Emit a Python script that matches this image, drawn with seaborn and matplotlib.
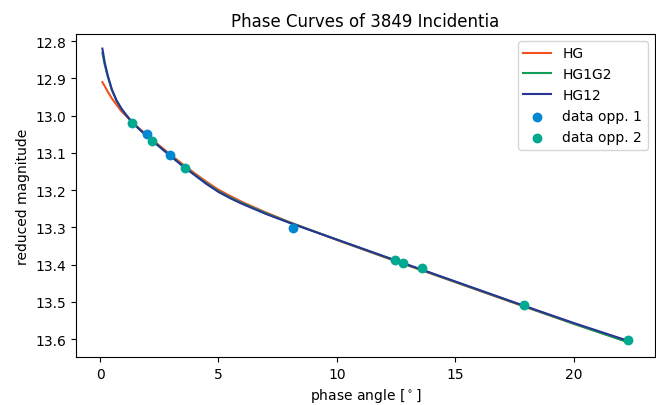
import numpy as np
import pandas as pd
import matplotlib
matplotlib.use("Agg")
import matplotlib.pyplot as plt
import seaborn as sns

# model curves
phase_model = [0.1, 0.2, 0.33, 0.5, 0.7, 0.9, 1.1, 1.37, 1.7, 2.0, 2.5, 3.0,
               3.5, 4.0, 4.5, 5.0, 5.5, 6.0, 7.0, 8.0, 10.0, 12.0, 14.0,
               16.0, 18.0, 20.0, 22.3]
mag_hg = [12.910, 12.921, 12.936, 12.954, 12.971, 12.988, 13.001, 13.018,
          13.037, 13.053, 13.080, 13.106, 13.131, 13.155, 13.178, 13.199,
          13.216, 13.232, 13.260, 13.286, 13.334, 13.380, 13.425, 13.470,
          13.515, 13.559, 13.608]
mag_hg1g2 = [12.832, 12.864, 12.896, 12.931, 12.960, 12.981, 12.998, 13.019,
             13.039, 13.056, 13.083, 13.109, 13.135, 13.159, 13.182, 13.203,
             13.220, 13.235, 13.262, 13.287, 13.333, 13.379, 13.424, 13.469,
             13.514, 13.559, 13.609]
mag_hg12 = [12.820, 12.858, 12.893, 12.930, 12.960, 12.981, 12.998, 13.019,
            13.039, 13.056, 13.083, 13.110, 13.136, 13.160, 13.184, 13.205,
            13.222, 13.237, 13.264, 13.288, 13.333, 13.378, 13.423, 13.468,
            13.513, 13.557, 13.605]

# observations
phase_opp1 = [2.0, 2.95, 8.15]
mag_opp1 = [13.048, 13.107, 13.302]
phase_opp2 = [1.37, 2.2, 3.58, 12.43, 12.8, 13.6, 17.88, 22.29]
mag_opp2 = [13.021, 13.069, 13.141, 13.387, 13.395, 13.41, 13.509, 13.603]

fig, ax = plt.subplots(figsize=(6.56, 4.06), dpi=100)
fig.subplots_adjust(left=0.116, right=0.998, bottom=0.118, top=0.914)

models = pd.DataFrame({"alpha": phase_model, "HG": mag_hg,
                       "HG1G2": mag_hg1g2, "HG12": mag_hg12})
sns.lineplot(data=models, x="alpha", y="HG", ax=ax, color="#F4511E", lw=1.5, label="HG")
sns.lineplot(data=models, x="alpha", y="HG1G2", ax=ax, color="#0F9D58", lw=1.5, label="HG1G2")
sns.lineplot(data=models, x="alpha", y="HG12", ax=ax, color="#283593", lw=1.5, label="HG12")

sns.scatterplot(x=phase_opp1, y=mag_opp1, ax=ax, color="#0288D1", s=50,
                linewidth=0, label="data opp. 1", zorder=3)
sns.scatterplot(x=phase_opp2, y=mag_opp2, ax=ax, color="#00A98F", s=50,
                linewidth=0, label="data opp. 2", zorder=3)

ax.invert_yaxis()
ax.set_title("Phase Curves of 3849 Incidentia")
ax.set_xlabel(r"phase angle [$^\circ$]")
ax.set_ylabel("reduced magnitude")
ax.legend(loc="upper right")

fig.savefig("out.png", dpi=100)
